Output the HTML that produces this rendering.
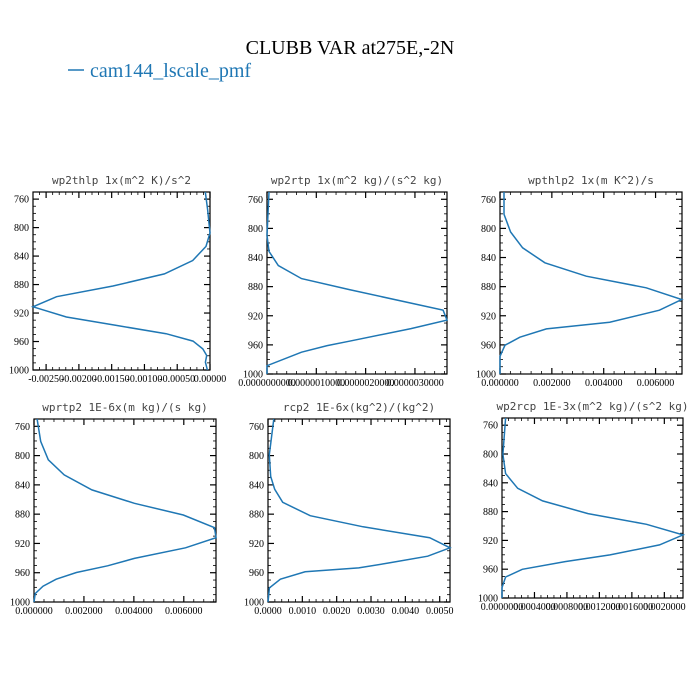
<!DOCTYPE html>
<html><head><meta charset="utf-8"><style>
body{margin:0;background:#fff}
svg{display:block}
.tl{font-family:"Liberation Serif",serif;font-size:10px;fill:#000}
.pt{font-family:"DejaVu Sans Mono","Liberation Mono",monospace;font-size:11px;fill:#444}
</style></head><body>
<svg id="chart" width="700" height="700" viewBox="0 0 700 700">
<text x="350" y="54" text-anchor="middle" font-family="Liberation Serif,serif" font-size="20">CLUBB VAR at275E,-2N</text>
<g>
<line x1="68" y1="70" x2="84" y2="70" stroke="#1f77b4" stroke-width="1.5"></line>
<text x="90" y="77" font-family="Liberation Serif,serif" font-size="20" fill="#1f77b4">cam144_lscale_pmf</text>
</g>
</svg>
<script>
// per-panel data
const p1Press=[750,774.5,807.5,826.4,846.2,865,882,897,911.3,925.5,937.3,949,959.4,970.3,979.7,989,1000];
const p1Vals=[-0.000071,-0.000036,0,-0.000061,-0.000264,-0.000695,-0.00148,-0.00234,-0.0027,-0.00219,-0.00143,-0.00067,-0.00026,-0.00011,-0.00005,-0.00007,-0.00004];
const p2Press=[750,809.6,831.6,851,869,884,912.4,926,937.6,955,961,970,988.6,1000];
const p2Vals=[4e-8,0,4e-8,2.3e-7,7e-7,1.67e-6,3.57e-6,3.65e-6,2.92e-6,1.67e-6,1.22e-6,7e-7,0,0];
const p3Press=[750,780.7,805,826.6,847.2,865.6,881.6,897.7,912.4,928.9,938,949.5,960.5,975.7,1000];
const p3Vals=[0.000154,0.000154,0.00041,0.000872,0.00173,0.00333,0.00564,0.00701,0.00615,0.00423,0.00179,0.000769,0.000192,0,0];
const p4Press=[750,780.6,805.8,826.3,846.8,865.1,881.1,898.5,912.2,925.9,940.5,950.6,959.7,968.8,978.4,988.5,1000];
const p4Vals=[0.000125,0.000268,0.000571,0.00121,0.00232,0.00402,0.00598,0.00723,0.00729,0.00607,0.00402,0.00295,0.0017,0.00089,0.00036,0.00005,0];
const p5Press=[750,798.9,828.6,846,863.8,882.1,897.2,912.2,926,937.4,946.5,953.4,958.8,968.9,980.8,1000];
const p5Vals=[0.000169,0.000039,0.000078,0.000195,0.000429,0.00123,0.00277,0.00471,0.0053,0.00465,0.00355,0.00264,0.00108,0.00036,0.00004,0];
const p6Press=[750,800.3,827.2,847.6,865.2,882.8,897.6,912.4,926.3,940.2,949.5,960.1,970.8,985.6,1000];
const p6Vals=[0.0000444,0.0000111,0.0000444,0.000194,0.0005,0.00106,0.00178,0.00223,0.00194,0.00133,0.000778,0.00025,0.0000444,0,0];
const yTicks=[760,800,840,880,920,960,1000];
const p1XTicks=[-0.0025,-0.002,-0.0015,-0.001,-0.0005,0];
const p2XTicks=[0,1e-6,2e-6,3e-6];
const p3XTicks=[0,0.002,0.004,0.006];
const p4XTicks=[0,0.002,0.004,0.006];
const p5XTicks=[0,0.001,0.002,0.003,0.004,0.005];
const p6XTicks=[0,0.0004,0.0008,0.0012,0.0016,0.002];

const panels=[
 {name:'wp2thlp',title:'wp2thlp  1x(m^2 K)/s^2',L:33,R:210,T:192,B:370,xmin:-0.0027,xmax:0,press:p1Press,vals:p1Vals,xt:p1XTicks,dec:5,fs:10},
 {name:'wp2rtp',title:'wp2rtp  1x(m^2 kg)/(s^2 kg)',L:267,R:447,T:192,B:374,xmin:0,xmax:3.65e-6,press:p2Press,vals:p2Vals,xt:p2XTicks,dec:10,fs:10},
 {name:'wpthlp2',title:'wpthlp2  1x(m K^2)/s',L:500,R:682,T:192,B:374,xmin:0,xmax:0.00702,press:p3Press,vals:p3Vals,xt:p3XTicks,dec:6,fs:10},
 {name:'wprtp2',title:'wprtp2  1E-6x(m kg)/(s kg)',L:34,R:216,T:419,B:602,xmin:0,xmax:0.00729,press:p4Press,vals:p4Vals,xt:p4XTicks,dec:6,fs:10},
 {name:'rcp2',title:'rcp2  1E-6x(kg^2)/(kg^2)',L:268,R:450,T:419,B:602,xmin:0,xmax:0.0053,press:p5Press,vals:p5Vals,xt:p5XTicks,dec:4,fs:10},
 {name:'wp2rcp',title:'wp2rcp  1E-3x(m^2 kg)/(s^2 kg)',L:502,R:683,T:418,B:598,xmin:0,xmax:0.00223,press:p6Press,vals:p6Vals,xt:p6XTicks,dec:7,fs:9.5}
];
const NS='http://www.w3.org/2000/svg';
const svg=document.getElementById('chart');
function mk(tag,attrs,parent){const e=document.createElementNS(NS,tag);for(const k in attrs)e.setAttribute(k,attrs[k]);parent.appendChild(e);return e;}
panels.forEach(P=>{
 const g=mk('g',{},svg);
 
 
 const xs=v=>P.L+(v-P.xmin)/(P.xmax-P.xmin)*(P.R-P.L);
 const ys=p=>P.T+(p-750)/250*(P.B-P.T);
 const t=mk('text',{x:(P.L+P.R)/2,y:P.T-8,'text-anchor':'middle',class:'pt'},g);
 t.textContent=P.title;
 
 
 // minor y ticks
 for(let p=760;p<=1000;p+=10){
  const y=ys(p);const maj=(p-760)%40===0;const len=maj?6:3;
  mk('line',{x1:P.L,y1:y,x2:P.L+len,y2:y,stroke:'#000','stroke-width':maj?1.2:0.8},g);
  mk('line',{x1:P.R,y1:y,x2:P.R-len,y2:y,stroke:'#000','stroke-width':maj?1.2:0.8},g);
 }
 yTicks.forEach(p=>{
  const lab=mk('text',{x:P.L-4,y:ys(p)+3.5,'text-anchor':'end',class:'tl'},g);
  lab.textContent=p;
  
  
 });
 // x ticks
 const step=P.xt[1]-P.xt[0];
 for(let i=0;i<P.xt.length;i++){
  for(let k=0;k<5;k++){
   const v=P.xt[i]+k*step/5; if(v>P.xmax+1e-12) break;
   const x=xs(v);const len=k===0?6:3;
   if(x<P.L-0.5||x>P.R+0.5) continue;
   mk('line',{x1:x,y1:P.B,x2:x,y2:P.B-len,stroke:'#000','stroke-width':k===0?1.2:0.8},g);
   mk('line',{x1:x,y1:P.T,x2:x,y2:P.T+len,stroke:'#000','stroke-width':k===0?1.2:0.8},g);
  }
  if(i===0){for(let k=1;k<5;k++){const x=xs(P.xt[0]-k*step/5);if(x>=P.L){mk('line',{x1:x,y1:P.B,x2:x,y2:P.B-3,stroke:'#000','stroke-width':0.8},g);mk('line',{x1:x,y1:P.T,x2:x,y2:P.T+3,stroke:'#000','stroke-width':0.8},g);}}}
  const lab=mk('text',{x:xs(P.xt[i]),y:P.B+12,'text-anchor':'middle',class:'tl','font-size':P.fs},g);
  lab.textContent=P.xt[i].toFixed(P.dec);
  
  
 }
 const fr=mk('rect',{x:P.L,y:P.T,width:P.R-P.L,height:P.B-P.T,fill:'none',stroke:'#000','stroke-width':1.2},g);
 
 
 const d=P.press.map((p,i)=>(i?'L':'M')+xs(P.vals[i]).toFixed(1)+','+ys(p).toFixed(1)).join(' ');
 const ln=mk('path',{d:d,fill:'none',stroke:'#1f77b4','stroke-width':1.5},g);
 
 
});
</script>
</body></html>
